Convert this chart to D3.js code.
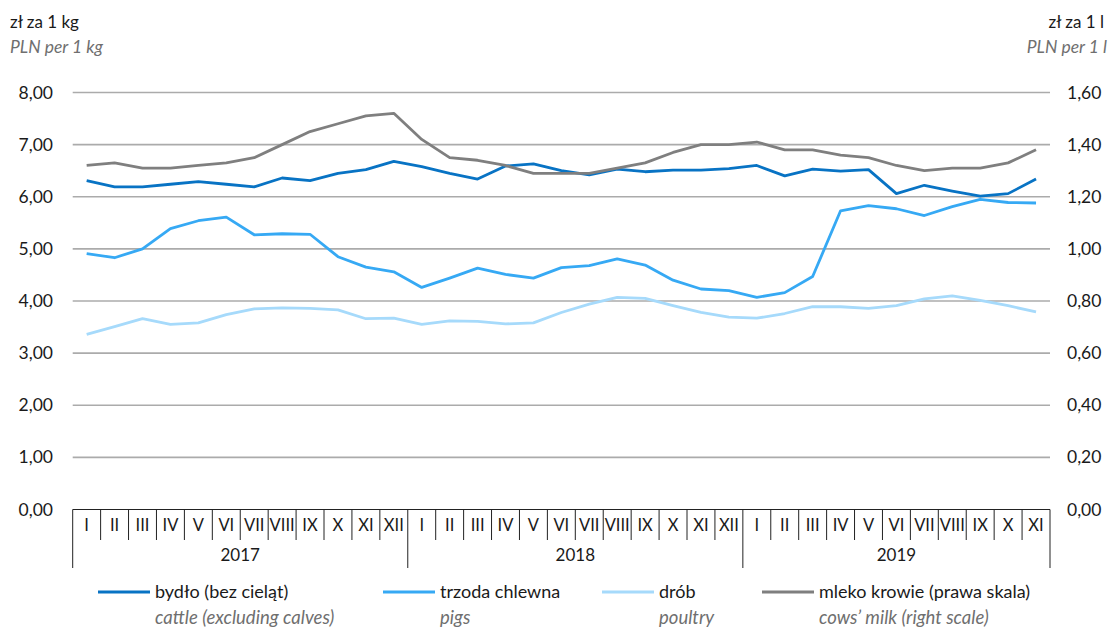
<!DOCTYPE html>
<html>
<head>
<meta charset="utf-8">
<script src="https://cdn.jsdelivr.net/npm/d3@7"></script>
<style>
  body { margin: 0; background: #fff; }
  svg { display: block; font-family: Lato, "Open Sans", sans-serif; }
</style>
</head>
<body>
<div id="chart"></div>
<script>
// Data (monthly prices, I 2017 - XI 2019)
const monthNames = ["I", "II", "III", "IV", "V", "VI", "VII", "VIII", "IX", "X", "XI", "XII"];
const years = ["2017", "2018", "2019"];
const monthsInYear = [12, 12, 11];

const cattle = [6.31, 6.19, 6.19, 6.24, 6.29, 6.24, 6.19, 6.36, 6.31, 6.45, 6.52, 6.68,
                6.58, 6.45, 6.34, 6.59, 6.63, 6.50, 6.42, 6.53, 6.48, 6.51, 6.51, 6.54,
                6.60, 6.40, 6.53, 6.49, 6.52, 6.06, 6.22, 6.11, 6.01, 6.06, 6.34];
const pigs = [4.91, 4.83, 5.00, 5.39, 5.54, 5.61, 5.27, 5.29, 5.28, 4.85, 4.65, 4.56,
              4.26, 4.44, 4.63, 4.51, 4.44, 4.64, 4.68, 4.81, 4.69, 4.40, 4.23, 4.20,
              4.07, 4.16, 4.47, 5.73, 5.83, 5.77, 5.64, 5.81, 5.95, 5.89, 5.88];
const poultry = [3.36, 3.51, 3.66, 3.55, 3.58, 3.74, 3.85, 3.87, 3.86, 3.83, 3.66, 3.67,
                 3.55, 3.62, 3.61, 3.56, 3.58, 3.78, 3.94, 4.07, 4.05, 3.91, 3.78, 3.69,
                 3.67, 3.76, 3.89, 3.89, 3.86, 3.91, 4.04, 4.10, 4.01, 3.91, 3.79];
// cows' milk is on the right scale (zł za 1 l)
const milk = [1.32, 1.33, 1.31, 1.31, 1.32, 1.33, 1.35, 1.40, 1.45, 1.48, 1.51, 1.52,
              1.42, 1.35, 1.34, 1.32, 1.29, 1.29, 1.29, 1.31, 1.33, 1.37, 1.40, 1.40,
              1.41, 1.38, 1.38, 1.36, 1.35, 1.32, 1.30, 1.31, 1.31, 1.33, 1.38];

const leftTicks = [0, 1, 2, 3, 4, 5, 6, 7, 8];
const rightTicks = [0, 0.2, 0.4, 0.6, 0.8, 1.0, 1.2, 1.4, 1.6];

const seriesNames = ["bydło (bez cieląt)", "trzoda chlewna", "drób", "mleko krowie (prawa skala)"];
const seriesNamesEn = ["cattle (excluding calves)", "pigs", "poultry", "cows\u2019 milk (right scale)"];

// one label per month along the x axis
const monthLabels = [];
monthsInYear.forEach((n, y) => {
    for (let m = 0; m < n; m++) monthLabels.push({ key: years[y] + "-" + m, month: monthNames[m], year: y });
});

const width = 1109, height = 630;
const margin = { left: 72.7, right: 1050, top: 92.5, bottom: 509.5 };

const svg = d3.select("#chart").append("svg")
    .attr("width", width)
    .attr("height", height);

const x = d3.scaleBand()
    .domain(monthLabels.map(d => d.key))
    .range([margin.left, margin.right])
    .padding(0);

const yLeft = d3.scaleLinear().domain([0, 8]).range([margin.bottom, margin.top]);
const yRight = d3.scaleLinear().domain([0, 1.6]).range([margin.bottom, margin.top]);

const fmt = v => d3.format(".2f")(v).replace(".", ",");
const textColor = "#1a1a1a";
const subColor = "#6f6f6f";

// gridlines
svg.append("g")
    .selectAll("line")
    .data(leftTicks.slice(1))
    .join("line")
    .attr("x1", margin.left)
    .attr("x2", margin.right)
    .attr("y1", d => yLeft(d))
    .attr("y2", d => yLeft(d))
    .attr("stroke", "#ababab")
    .attr("stroke-width", 1.6);

// left axis labels
const leftAxis = svg.append("g")
    .attr("transform", "translate(53,0)")
    .call(d3.axisLeft(yLeft).tickValues(leftTicks).tickSize(0).tickPadding(0).tickFormat(fmt));
leftAxis.select(".domain").remove();
leftAxis.selectAll("text")
    .attr("font-family", "Lato, sans-serif")
    .attr("font-size", 17.5)
    .attr("fill", textColor);

// right axis labels
const rightAxis = svg.append("g")
    .attr("transform", "translate(1067,0)")
    .call(d3.axisRight(yRight).tickValues(rightTicks).tickSize(0).tickPadding(0).tickFormat(fmt));
rightAxis.select(".domain").remove();
rightAxis.selectAll("text")
    .attr("font-family", "Lato, sans-serif")
    .attr("font-size", 17.5)
    .attr("fill", textColor);

// unit titles
svg.append("text").attr("x", 10).attr("y", 28)
    .attr("font-size", 17).attr("fill", textColor).text("zł za 1 kg");
svg.append("text").attr("x", 10).attr("y", 53)
    .attr("font-size", 17.5).attr("font-style", "italic").attr("fill", subColor).text("PLN per 1 kg");
svg.append("text").attr("x", 1104).attr("y", 28).attr("text-anchor", "end")
    .attr("font-size", 17).attr("fill", textColor).text("zł za 1 l");
svg.append("text").attr("x", 1107).attr("y", 53).attr("text-anchor", "end")
    .attr("font-size", 17.5).attr("font-style", "italic").attr("fill", subColor).text("PLN per 1 l");

// category axis: box with month and year separators
const axisG = svg.append("g").attr("stroke", "#222").attr("stroke-width", 1);
axisG.append("line")
    .attr("x1", margin.left).attr("x2", margin.right)
    .attr("y1", margin.bottom).attr("y2", margin.bottom);

const boundaries = monthLabels.map(d => x(d.key)).concat([margin.right]);
let idx = 0;
const yearStarts = [0];
monthsInYear.forEach(n => { idx += n; yearStarts.push(idx); });

axisG.selectAll(".mtick")
    .data(boundaries.map((b, i) => ({ b, i })))
    .join("line")
    .attr("class", "mtick")
    .attr("x1", d => d.b).attr("x2", d => d.b)
    .attr("y1", margin.bottom)
    .attr("y2", d => yearStarts.includes(d.i) ? 568 : 540);

svg.append("g").selectAll("text")
    .data(monthLabels)
    .join("text")
    .attr("x", d => x(d.key) + x.bandwidth() / 2)
    .attr("y", 531)
    .attr("text-anchor", "middle")
    .attr("font-size", 16.5)
    .attr("fill", textColor)
    .text(d => d.month);

svg.append("g").selectAll("text")
    .data(years)
    .join("text")
    .attr("x", (d, i) => (boundaries[yearStarts[i]] + boundaries[yearStarts[i + 1]]) / 2)
    .attr("y", 561)
    .attr("text-anchor", "middle")
    .attr("font-size", 17)
    .attr("fill", textColor)
    .text(d => d);

// the lines
const colors = ["#0873c4", "#36a9f4", "#a6dafb", "#7f7f7f"];
const keys = monthLabels.map(d => d.key);
const lineLeft = d3.line().x((d, i) => x(keys[i]) + x.bandwidth() / 2).y(d => yLeft(d));
const lineRight = d3.line().x((d, i) => x(keys[i]) + x.bandwidth() / 2).y(d => yRight(d));

const seriesData = [
    { values: poultry, color: colors[2], gen: lineLeft },
    { values: pigs, color: colors[1], gen: lineLeft },
    { values: cattle, color: colors[0], gen: lineLeft },
    { values: milk, color: colors[3], gen: lineRight }
];

svg.append("g").selectAll("path")
    .data(seriesData)
    .join("path")
    .attr("d", d => d.gen(d.values))
    .attr("fill", "none")
    .attr("stroke", d => d.color)
    .attr("stroke-width", 2.8)
    .attr("stroke-linejoin", "round");

// legend
const legendX = [98, 383, 602, 762];
const legend = svg.append("g").selectAll("g")
    .data(seriesNames)
    .join("g")
    .attr("transform", (d, i) => `translate(${legendX[i]}, 592)`);

legend.append("line")
    .attr("x1", 0).attr("x2", 52)
    .attr("stroke", (d, i) => colors[i])
    .attr("stroke-width", 2.8);

legend.append("text")
    .attr("x", 57).attr("y", 6)
    .attr("font-size", 18)
    .attr("fill", textColor)
    .text(d => d);

legend.append("text")
    .attr("x", 57).attr("y", 32)
    .attr("font-size", 18.5)
    .attr("font-style", "italic")
    .attr("fill", subColor)
    .text((d, i) => seriesNamesEn[i]);
</script>
</body>
</html>
